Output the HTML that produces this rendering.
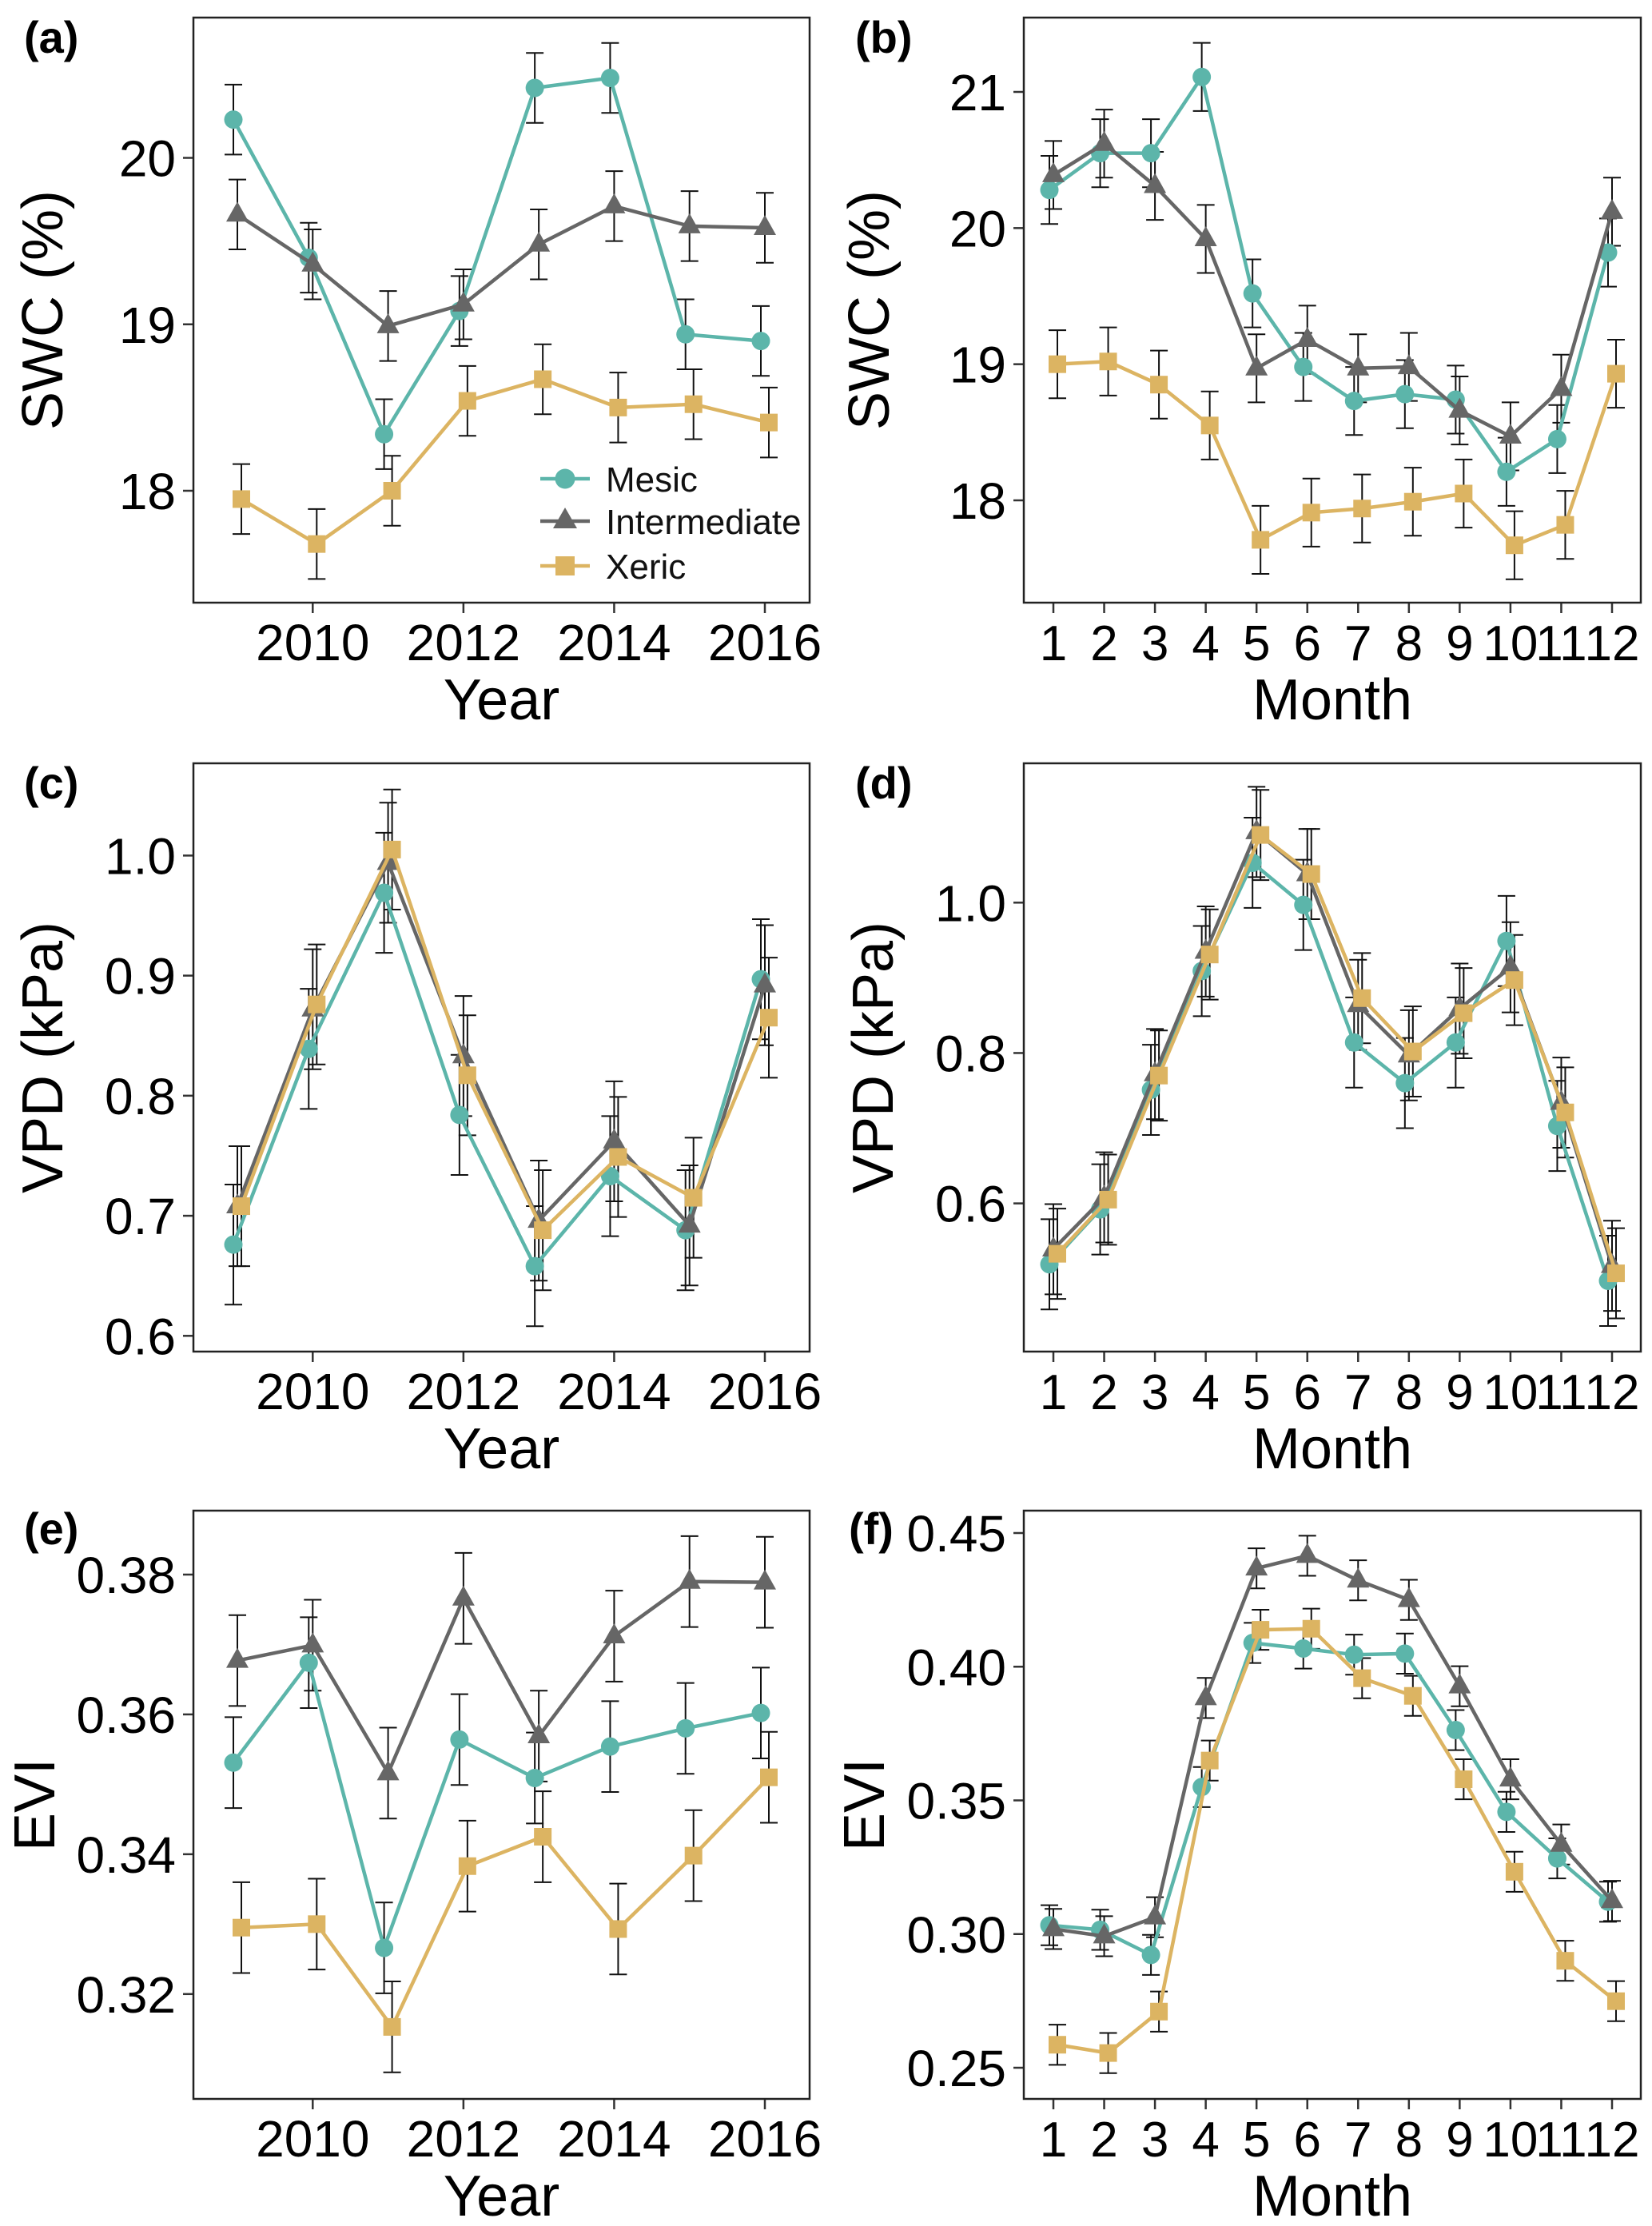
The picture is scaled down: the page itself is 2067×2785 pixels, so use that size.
<!DOCTYPE html>
<html><head><meta charset="utf-8">
<style>
html,body{margin:0;padding:0;background:#fff;}
svg{display:block;font-family:"Liberation Sans",Arial,sans-serif;}
</style></head>
<body>
<svg id="fig" width="2067" height="2785" viewBox="0 0 2067 2785" xmlns="http://www.w3.org/2000/svg"></svg>
<script>
// ---- data ----
const years = [2009, 2010, 2011, 2012, 2013, 2014, 2015, 2016];
const yearTicks = [2010, 2012, 2014, 2016];
const months = [1,2,3,4,5,6,7,8,9,10,11,12];
const monthTicks = [1,2,3,4,5,6,7,8,9,10,11,12];

const swcYearMesic = [20.23, 19.40, 18.34, 19.08, 20.42, 20.48, 18.94, 18.90];
const swcYearInter = [19.66, 19.36, 18.99, 19.12, 19.48, 19.71, 19.59, 19.58];
const swcYearXeric = [17.95, 17.68, 18.00, 18.54, 18.67, 18.50, 18.52, 18.41];
const swcYearErr = 0.21;

const swcMonthMesic = [20.28, 20.55, 20.55, 21.11, 19.52, 18.98, 18.73, 18.78, 18.74, 18.21, 18.45, 19.82];
const swcMonthInter = [20.39, 20.62, 20.31, 19.92, 18.97, 19.18, 18.97, 18.98, 18.66, 18.47, 18.82, 20.12];
const swcMonthXeric = [19.00, 19.02, 18.85, 18.55, 17.71, 17.91, 17.94, 17.99, 18.05, 17.67, 17.82, 18.93];
const swcMonthErr = 0.25;

const vpdYearMesic = [0.676, 0.839, 0.969, 0.784, 0.658, 0.733, 0.688, 0.897];
const vpdYearInter = [0.708, 0.872, 0.994, 0.833, 0.696, 0.762, 0.692, 0.892];
const vpdYearXeric = [0.708, 0.876, 1.005, 0.817, 0.688, 0.749, 0.715, 0.865];
const vpdYearErr = 0.05;

const vpdMonthMesic = [0.519, 0.592, 0.751, 0.909, 1.053, 0.997, 0.814, 0.760, 0.814, 0.949, 0.703, 0.497];
const vpdMonthInter = [0.539, 0.608, 0.772, 0.935, 1.094, 1.038, 0.864, 0.797, 0.859, 0.914, 0.734, 0.517];
const vpdMonthXeric = [0.533, 0.605, 0.770, 0.931, 1.090, 1.038, 0.873, 0.802, 0.853, 0.897, 0.721, 0.507];
const vpdMonthErr = 0.06;

const eviYearMesic = [0.3531, 0.3674, 0.3266, 0.3564, 0.3509, 0.3554, 0.3580, 0.3602];
const eviYearInter = [0.3677, 0.3699, 0.3516, 0.3766, 0.3569, 0.3712, 0.3790, 0.3789];
const eviYearXeric = [0.3295, 0.3300, 0.3153, 0.3383, 0.3425, 0.3293, 0.3398, 0.3510];
const eviYearErr = 0.0065;

const eviMonthMesic = [0.3033, 0.3016, 0.2922, 0.3550, 0.4089, 0.4068, 0.4045, 0.4049, 0.3763, 0.3457, 0.3283, 0.3121];
const eviMonthInter = [0.3019, 0.2992, 0.3063, 0.3883, 0.4368, 0.4415, 0.4323, 0.4250, 0.3927, 0.3579, 0.3335, 0.3124];
const eviMonthXeric = [0.2586, 0.2555, 0.2710, 0.3649, 0.4138, 0.4142, 0.3957, 0.3891, 0.3579, 0.3233, 0.2900, 0.2749];
const eviMonthErr = 0.0075;

const swcYTicks = [18, 19, 20];
const swcMYTicks = [18, 19, 20, 21];
const vpdYTicks = [0.6, 0.7, 0.8, 0.9, 1.0];
const vpdMYTicks = [0.6, 0.8, 1.0];
const eviYTicks = [0.32, 0.34, 0.36, 0.38];
const eviMYTicks = [0.25, 0.30, 0.35, 0.40, 0.45];

// ---- drawing ----
const NS = "http://www.w3.org/2000/svg";
const svg = document.getElementById("fig");
const COLORS = {mesic:"#5cb5aa", inter:"#666666", xeric:"#dcb462"};

function mk(tag, attrs, parent){
  const e = document.createElementNS(NS, tag);
  for (const k in attrs) e.setAttribute(k, attrs[k]);
  (parent||svg).appendChild(e);
  return e;
}
function linear(d0, d1, r0, r1){ return v => r0 + (v - d0) * (r1 - r0) / (d1 - d0); }

function panel(cfg){
  const g = mk("g", {});
  
  
  const xs = linear(cfg.xd[0], cfg.xd[1], cfg.xr[0], cfg.xr[1]);
  const ys = linear(cfg.yd[0], cfg.yd[1], cfg.yr[0], cfg.yr[1]);
  const L=cfg.box[0], T=cfg.box[1], R=cfg.box[2], B=cfg.box[3];
  cfg.yTicks.forEach(v => {
    const y = ys(v);
    const t = mk("line", {x1:L-13, x2:L, y1:y, y2:y, stroke:"#333", "stroke-width":2.5}, g);
    
    
    const lb = mk("text", {x:L-22, y:y+23, "text-anchor":"end", "font-size":64, fill:"#000"}, g);
    
    
    lb.textContent = cfg.yFmt(v);
  });
  cfg.xTicks.forEach(v => {
    const x = xs(v);
    const t = mk("line", {x1:x, x2:x, y1:B, y2:B+13, stroke:"#333", "stroke-width":2.5}, g);
    
    
    const lb = mk("text", {x:x, y:B+72, "text-anchor":"middle", "font-size":cfg.month?62:64, fill:"#000"}, g);
    
    
    lb.textContent = String(v);
  });
  const series = [
    {k:"mesic", vals:cfg.mesic, dx:-5, shape:"circle"},
    {k:"inter", vals:cfg.inter, dx:0, shape:"tri"},
    {k:"xeric", vals:cfg.xeric, dx:5, shape:"square"}
  ];
  series.forEach(s => {
    s.vals.forEach((v,i) => {
      const x = xs(cfg.x[i]) + s.dx;
      const y1 = ys(v + cfg.err), y2 = ys(v - cfg.err);
      const eb = mk("path", {d:`M${x-11},${y1}H${x+11}M${x},${y1}V${y2}M${x-11},${y2}H${x+11}`, stroke:"#111", "stroke-width":2, fill:"none"}, g);
      
      
    });
  });
  series.forEach(s => {
    const pts = s.vals.map((v,i) => `${xs(cfg.x[i]) + s.dx},${ys(v)}`).join(" ");
    const pl = mk("polyline", {points:pts, fill:"none", stroke:COLORS[s.k], "stroke-width":4.5, "stroke-linejoin":"round"}, g);
    
    
    s.vals.forEach((v,i) => {
      const x = xs(cfg.x[i]) + s.dx, y = ys(v);
      let m;
      if (s.shape === "circle") m = mk("circle", {cx:x, cy:y, r:11.5, fill:COLORS[s.k]}, g);
      else if (s.shape === "tri") m = mk("path", {d:`M${x},${y-16}L${x+14},${y+9}L${x-14},${y+9}Z`, fill:COLORS[s.k]}, g);
      else m = mk("rect", {x:x-11, y:y-11, width:22, height:22, fill:COLORS[s.k]}, g);
      
      
    });
  });
  const box = mk("rect", {x:L, y:T, width:R-L, height:B-T, fill:"none", stroke:"#222", "stroke-width":2.5}, g);
  
  
  const xt = mk("text", {x:(L+R)/2, y:B+146, "text-anchor":"middle", "font-size":72, fill:"#000"}, g);
  
  
  xt.textContent = cfg.xTitle;
  const cy = (T+B)/2;
  const yt = mk("text", {x:cfg.yTitleX, y:cy, "text-anchor":"middle", "font-size":72, fill:"#000", transform:`rotate(-90 ${cfg.yTitleX} ${cy})`}, g);
  
  
  yt.textContent = cfg.yTitle;
  const pl = mk("text", {x:cfg.lab[0], y:cfg.lab[1], "font-size":56, "font-weight":"bold", fill:"#000"}, g);
  
  
  pl.textContent = cfg.label;
}

const LB = [242, 1013], RB = [1281, 2053];
const ROWS = [[22,754],[955,1691],[1890,2626]];
const f0 = v => String(v);
const f1 = v => v.toFixed(1);
const f2 = v => v.toFixed(2);

panel({name:"panel-a-swc-year", label:"(a)", lab:[30,66], box:[LB[0],ROWS[0][0],LB[1],ROWS[0][1]],
  x:years, xd:[2009,2016], xr:[297,957], xTicks:yearTicks, yd:[20,18], yr:[197.5,614], yTicks:swcYTicks, yFmt:f0,
  mesic:swcYearMesic, inter:swcYearInter, xeric:swcYearXeric, err:swcYearErr, xTitle:"Year", yTitle:"SWC (%)", yTitleX:78});
panel({name:"panel-b-swc-month", label:"(b)", lab:[1070,66], box:[RB[0],ROWS[0][0],RB[1],ROWS[0][1]], month:true,
  x:months, xd:[1,12], xr:[1318,2017], xTicks:monthTicks, yd:[21,18], yr:[115,626], yTicks:swcMYTicks, yFmt:f0,
  mesic:swcMonthMesic, inter:swcMonthInter, xeric:swcMonthXeric, err:swcMonthErr, xTitle:"Month", yTitle:"SWC (%)", yTitleX:1112});
panel({name:"panel-c-vpd-year", label:"(c)", lab:[30,999], box:[LB[0],ROWS[1][0],LB[1],ROWS[1][1]],
  x:years, xd:[2009,2016], xr:[297,957], xTicks:yearTicks, yd:[1.0,0.6], yr:[1070.4,1671.3], yTicks:vpdYTicks, yFmt:f1,
  mesic:vpdYearMesic, inter:vpdYearInter, xeric:vpdYearXeric, err:vpdYearErr, xTitle:"Year", yTitle:"VPD (kPa)", yTitleX:78});
panel({name:"panel-d-vpd-month", label:"(d)", lab:[1070,999], box:[RB[0],ROWS[1][0],RB[1],ROWS[1][1]], month:true,
  x:months, xd:[1,12], xr:[1318,2017], xTicks:monthTicks, yd:[1.0,0.6], yr:[1129.3,1505.6], yTicks:vpdMYTicks, yFmt:f1,
  mesic:vpdMonthMesic, inter:vpdMonthInter, xeric:vpdMonthXeric, err:vpdMonthErr, xTitle:"Month", yTitle:"VPD (kPa)", yTitleX:1117});
panel({name:"panel-e-evi-year", label:"(e)", lab:[30,1932], box:[LB[0],ROWS[2][0],LB[1],ROWS[2][1]],
  x:years, xd:[2009,2016], xr:[297,957], xTicks:yearTicks, yd:[0.38,0.32], yr:[1970,2494.8], yTicks:eviYTicks, yFmt:f2,
  mesic:eviYearMesic, inter:eviYearInter, xeric:eviYearXeric, err:eviYearErr, xTitle:"Year", yTitle:"EVI", yTitleX:68});
panel({name:"panel-f-evi-month", label:"(f)", lab:[1062,1932], box:[RB[0],ROWS[2][0],RB[1],ROWS[2][1]], month:true,
  x:months, xd:[1,12], xr:[1318,2017], xTicks:monthTicks, yd:[0.45,0.25], yr:[1918,2587], yTicks:eviMYTicks, yFmt:f2,
  mesic:eviMonthMesic, inter:eviMonthInter, xeric:eviMonthXeric, err:eviMonthErr, xTitle:"Month", yTitle:"EVI", yTitleX:1106});

// legend in panel a
const leg = mk("g", {});


const legItems = [["mesic","Mesic",599,"circle"],["inter","Intermediate",652,"tri"],["xeric","Xeric",708,"square"]];
legItems.forEach(it => {
  const [k, txt, y, shape] = it;
  const ln = mk("line", {x1:676, x2:738, y1:y, y2:y, stroke:COLORS[k], "stroke-width":4.5}, leg);
  
  
  let m;
  if (shape==="circle") m = mk("circle", {cx:707, cy:y, r:12.5, fill:COLORS[k]}, leg);
  else if (shape==="tri") m = mk("path", {d:`M707,${y-17}L722,${y+9}L692,${y+9}Z`, fill:COLORS[k]}, leg);
  else m = mk("rect", {x:695, y:y-12, width:24, height:24, fill:COLORS[k]}, leg);
  
  
  const t = mk("text", {x:758, y:y+16, "font-size":44, fill:"#111"}, leg);
  
  
  t.textContent = txt;
});
</script>
</body></html>
